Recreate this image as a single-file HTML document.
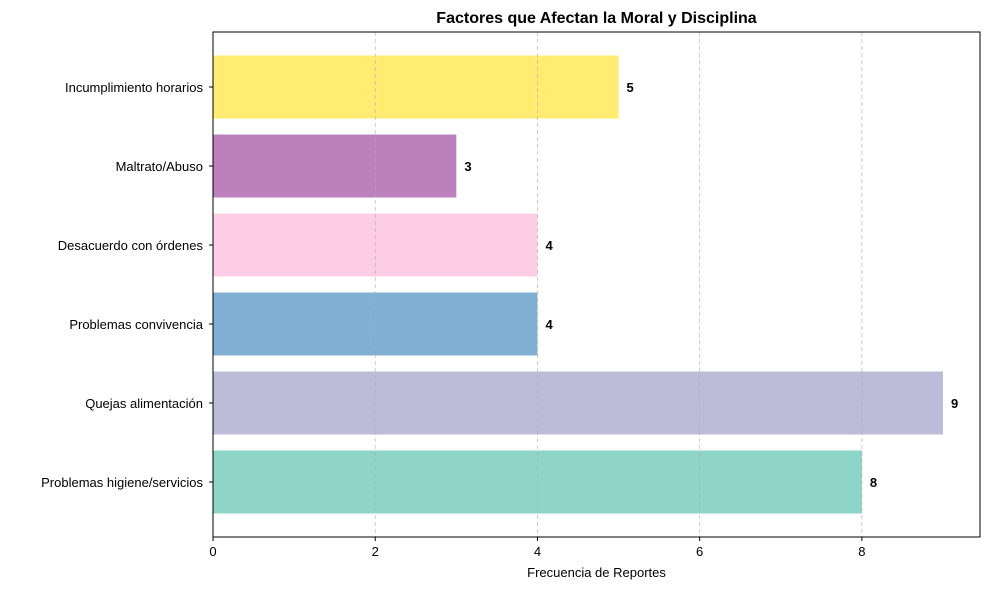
<!DOCTYPE html>
<html><head><meta charset="utf-8"><style>
body{margin:0;background:#fff;}
svg{font-family:"Liberation Sans","DejaVu Sans",sans-serif;display:block;}
</style></head><body>
<svg id="chart" width="989" height="590"></svg>
<script>
const categories=["Problemas higiene/servicios","Quejas alimentación","Problemas convivencia","Desacuerdo con órdenes","Maltrato/Abuso","Incumplimiento horarios"];
const values=[8,9,4,4,3,5];
const colors=["#8ed4c7","#bebbd9","#80b0d3","#fdcde5","#bc80bc","#ffec70"];
const xTicks=[0,2,4,6,8];
const L=213,R=980,T=32,B=537;
const xs=v=>L+v*(943-L)/9;
const ys=i=>482-i*79;
const NS="http://www.w3.org/2000/svg";
const svg=document.getElementById("chart");
function mk(t,a,p){const e=document.createElementNS(NS,t);for(const k in a)e.setAttribute(k,a[k]);(p||svg).appendChild(e);return e;}
const bg=mk("g",{});


values.forEach((v,i)=>{
 const r=mk("rect",{x:xs(0),y:ys(i)-31.5,width:xs(v)-xs(0),height:63,fill:colors[i]},bg);
 
 
 const t=mk("text",{x:xs(v)+8,y:ys(i)+5,"font-size":13,"font-weight":"bold",fill:"#000"},bg);
 t.textContent=v;
 
 
 const c=mk("text",{x:L-10,y:ys(i)+5,"font-size":13,"text-anchor":"end",fill:"#000"});
 c.textContent=categories[i];
 
 
 const tk=mk("line",{x1:L-4,x2:L,y1:ys(i),y2:ys(i),stroke:"#000"});
 
 
});
xTicks.forEach(v=>{
 const g=mk("line",{x1:xs(v),x2:xs(v),y1:T,y2:B,stroke:"#b0b0b0","stroke-dasharray":"4,3","stroke-width":0.8,opacity:0.8});
 
 
 const tk=mk("line",{x1:xs(v),x2:xs(v),y1:B,y2:B+4,stroke:"#000"});
 
 
 const t=mk("text",{x:xs(v),y:B+19,"font-size":13,"text-anchor":"middle"});
 t.textContent=v;
 
 
});
const fr=mk("rect",{x:L,y:T,width:R-L,height:B-T,fill:"none",stroke:"#000","stroke-width":1});


const ti=mk("text",{x:(L+R)/2,y:23,"font-size":16,"font-weight":"bold","text-anchor":"middle"});
ti.textContent="Factores que Afectan la Moral y Disciplina";


const xl=mk("text",{x:(L+R)/2,y:577,"font-size":13,"text-anchor":"middle"});
xl.textContent="Frecuencia de Reportes";


</script>
</body></html>
